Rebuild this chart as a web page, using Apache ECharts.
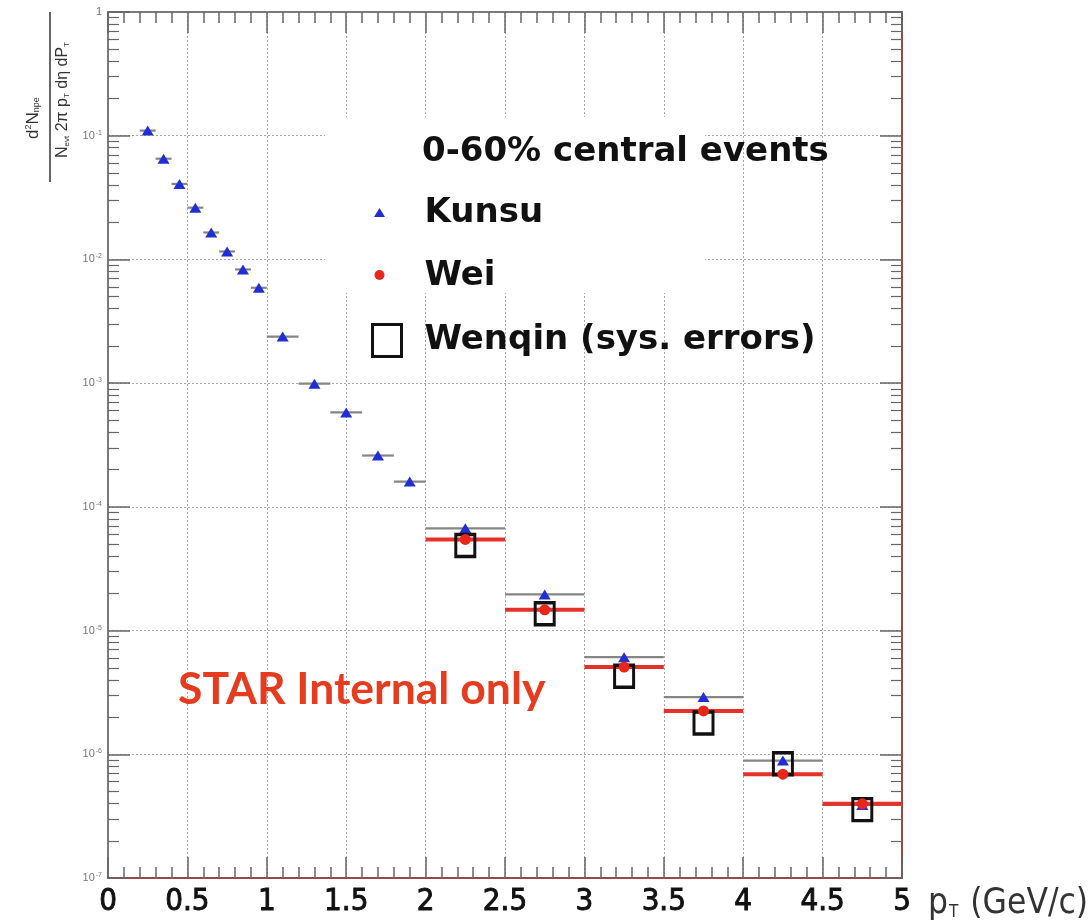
<!DOCTYPE html>
<html>
<head>
<meta charset="utf-8">
<script src="https://cdn.jsdelivr.net/npm/echarts@6/dist/echarts.min.js"></script>
<style>
  html, body { margin: 0; padding: 0; background: #ffffff; }
  #chart { width: 1090px; height: 922px; }
</style>
</head>
<body>
<div id="chart"></div>
<script>
// ---- data ----
const kunsuPt = [0.25, 0.35, 0.45, 0.55, 0.65, 0.75, 0.85, 0.95, 1.1, 1.3, 1.5, 1.7, 1.9, 2.25, 2.75, 3.25, 3.75, 4.25, 4.75];
const kunsuBinHalf = [0.05, 0.05, 0.05, 0.05, 0.05, 0.05, 0.05, 0.05, 0.1, 0.1, 0.1, 0.1, 0.1, 0.25, 0.25, 0.25, 0.25, 0.25, 0.25];
const kunsuY = [0.110, 0.0652, 0.0408, 0.0262, 0.0165, 0.0116, 0.0083, 0.0059, 0.00238, 0.00099, 0.00058, 0.00026, 0.00016, 6.7e-5, 1.96e-5, 6.1e-6, 2.9e-6, 8.9e-7, 3.9e-7];
const highPt = [2.25, 2.75, 3.25, 3.75, 4.25, 4.75];
const highBinHalf = [0.25, 0.25, 0.25, 0.25, 0.25, 0.25];
const weiY = [5.45e-5, 1.47e-5, 5.07e-6, 2.24e-6, 6.9e-7, 3.98e-7];
const wenqinY = [4.88e-5, 1.37e-5, 4.27e-6, 1.79e-6, 8.4e-7, 3.57e-7];
const xTicks = [0, 0.5, 1, 1.5, 2, 2.5, 3, 3.5, 4, 4.5, 5];
const yMin = 1e-7, yMax = 1;
const seriesNames = ['Kunsu', 'Wei', 'Wenqin (sys. errors)'];
const headerText = '0-60% central events';
const watermark = 'STAR Internal only';

// ---- build ----
const kunsuPts = kunsuPt.map((x, i) => [x, kunsuY[i]]);
const kunsuErr = kunsuPt.map((x, i) => [x, kunsuY[i], x - kunsuBinHalf[i], x + kunsuBinHalf[i]]);
const weiPts = highPt.map((x, i) => [x, weiY[i]]);
const weiErr = highPt.map((x, i) => [x, weiY[i], x - highBinHalf[i], x + highBinHalf[i]]);
const wenqinPts = highPt.map((x, i) => [x, wenqinY[i]]);

function barRenderer(color, width) {
  return function (params, api) {
    const y = api.value(1);
    const p1 = api.coord([api.value(2), y]);
    const p2 = api.coord([api.value(3), y]);
    return { type: 'line', shape: { x1: p1[0], y1: p1[1], x2: p2[0], y2: p2[1] },
             style: { stroke: color, lineWidth: width } };
  };
}

const gridLine = { show: true, lineStyle: { color: '#a8a8a8', type: [2, 2], width: 1 } };
const frameGray = '#7a7a7a';
const frameRed = '#9a4848';

function xAxisCfg(pos, showLabel, lineColor) {
  return {
    type: 'value', min: 0, max: 5, interval: 0.5, position: pos,
    axisLine: { show: true, onZero: false, lineStyle: { color: lineColor, width: 2 } },
    axisTick: { show: true, inside: true, length: 21, lineStyle: { color: '#666', width: 1.5 } },
    minorTick: { show: true, splitNumber: 5, length: 11, lineStyle: { color: '#666', width: 1.5 } },
    splitLine: pos === 'bottom' ? gridLine : { show: false },
    axisLabel: showLabel ? {
      show: true, margin: 8, fontSize: 31, color: '#111', textBorderColor: '#111', textBorderWidth: 0.9,
      fontFamily: '"Liberation Sans Narrow", "DejaVu Sans Condensed", "Liberation Sans", sans-serif',
      formatter: v => (xTicks.indexOf(v) >= 0 ? String(v) : '')
    } : { show: false }
  };
}
function yAxisCfg(pos, showLabel, lineColor) {
  return {
    type: 'log', logBase: 10, min: yMin, max: yMax, position: pos, splitNumber: 7,
    axisLine: { show: true, onZero: false, lineStyle: { color: lineColor, width: 2 } },
    axisTick: { show: true, inside: true, length: 22, lineStyle: { color: '#666', width: 1.5 } },
    minorTick: { show: true, splitNumber: 9, length: 11, lineStyle: { color: '#666', width: 1.2 } },
    splitLine: pos === 'left' ? gridLine : { show: false },
    axisLabel: showLabel ? {
      show: true, margin: 6, showMinLabel: true, showMaxLabel: true, color: '#777',
      fontFamily: 'Liberation Sans, Arial, sans-serif', fontSize: 11,
      formatter: v => {
        const n = Math.round(Math.log10(v));
        return n === 0 ? '1' : '10{sup|' + n + '}';
      },
      rich: { sup: { fontSize: 7, color: '#777', verticalAlign: 'top', padding: [0, 0, 6, 1] } }
    } : { show: false }
  };
}

const chart = echarts.init(document.getElementById('chart'), null, { renderer: 'canvas' });
chart.setOption({
  animation: false,
  backgroundColor: '#ffffff',
  grid: { left: 108, right: 188, top: 12, bottom: 44, containLabel: false, outerBoundsMode: 'none' },
  xAxis: [
    Object.assign(xAxisCfg('bottom', true, frameRed), {
      name: 'p{sub|T} (GeV/c)', nameLocation: 'end', nameGap: 26,
      nameTextStyle: { fontSize: 35, color: '#333', verticalAlign: 'top', padding: [8, 0, 0, 0],
        fontFamily: '"Liberation Sans Narrow", "DejaVu Sans Condensed", sans-serif',
        rich: { sub: { fontSize: 17, color: '#333', verticalAlign: 'bottom', padding: [15, 2, 0, 1] } } }
    }),
    xAxisCfg('top', false, frameGray)
  ],
  yAxis: [yAxisCfg('left', true, frameGray), yAxisCfg('right', false, frameRed)],
  legend: {
    orient: 'vertical', left: 357, top: 191, itemWidth: 56, itemHeight: 34, itemGap: 29,
    selectedMode: false,
    textStyle: { fontFamily: '"DejaVu Sans", sans-serif', fontWeight: 'bold', fontSize: 34, color: '#111', lineHeight: 34 },
    data: [
      { name: seriesNames[0], icon: 'path://M0,0 M56,34 M10.5,21 L16,12 L21.5,21 Z',
        itemStyle: { color: '#1f2fd4', opacity: 1 } },
      { name: seriesNames[1], icon: 'path://M0,0 M56,34 M11,16 A5,5 0 1,1 21,16 A5,5 0 1,1 11,16 Z',
        itemStyle: { color: '#e8261a', opacity: 1 } },
      { name: seriesNames[2], icon: 'path://M0,0 M56,34 M9,1 L38,1 L38,33 L9,33 Z',
        itemStyle: { color: 'rgba(0,0,0,0)', borderColor: '#111', borderWidth: 3, opacity: 1 } }
    ]
  },
  graphic: [
    { type: 'rect', z: 1, shape: { x: 325, y: 117, width: 380, height: 176 }, style: { fill: '#ffffff' } },
    { type: 'text', z: 10, x: 422, y: 152,
      style: { text: headerText, fontFamily: '"DejaVu Sans", sans-serif', fontWeight: 'bold', fontSize: 34,
               fill: '#111', align: 'left', verticalAlign: 'middle' } },
    { type: 'text', z: 10, x: 178, y: 690,
      style: { text: watermark, fontFamily: 'Lato, "Open Sans", sans-serif', fontWeight: 'bold', fontSize: 44.5,
               fill: '#e63b1f', align: 'left', verticalAlign: 'middle' } },
    { type: 'line', z: 10, shape: { x1: 50, y1: 12, x2: 50, y2: 182 }, style: { stroke: '#333', lineWidth: 1.5 } },
    { type: 'text', z: 10, x: 33, y: 118, rotation: Math.PI / 2,
      style: { text: 'd{sup|2}N{sub|npe}', fontFamily: 'Liberation Sans, Arial, sans-serif', fontSize: 17, fill: '#333',
               align: 'center', verticalAlign: 'middle',
               rich: { sup: { fontSize: 9, fill: '#333', verticalAlign: 'top' },
                       sub: { fontSize: 9, fill: '#333', verticalAlign: 'bottom' } } } },
    { type: 'text', z: 10, x: 63, y: 100, rotation: Math.PI / 2,
      style: { text: 'N{sub|evt} 2π p{sub|T} dη dP{sub|T}', fontFamily: 'Liberation Sans, Arial, sans-serif', fontSize: 16, fill: '#333',
               align: 'center', verticalAlign: 'middle',
               rich: { sub: { fontSize: 8, fill: '#333', verticalAlign: 'bottom' } } } }
  ],
  series: [
    { name: 'Kunsu x-bins', type: 'custom', xAxisIndex: 0, yAxisIndex: 0, data: kunsuErr,
      encode: { x: 0, y: 1 }, renderItem: barRenderer('#858585', 2.2), silent: true },
    { name: seriesNames[0], type: 'scatter', data: kunsuPts, symbol: 'triangle', symbolSize: [12, 10],
      itemStyle: { color: '#1f2fd4', opacity: 1 } },
    { name: seriesNames[2], type: 'scatter', data: wenqinPts, symbol: 'rect', symbolSize: [19, 22],
      itemStyle: { color: 'rgba(0,0,0,0)', borderColor: '#111', borderWidth: 3.2, opacity: 1 } },
    { name: 'Wei x-bins', type: 'custom', data: weiErr, encode: { x: 0, y: 1 },
      renderItem: barRenderer('#e5312a', 4), silent: true },
    { name: seriesNames[1], type: 'scatter', data: weiPts, symbol: 'circle', symbolSize: 11,
      itemStyle: { color: '#e8261a', opacity: 1 } }
  ]
});
</script>
</body>
</html>
